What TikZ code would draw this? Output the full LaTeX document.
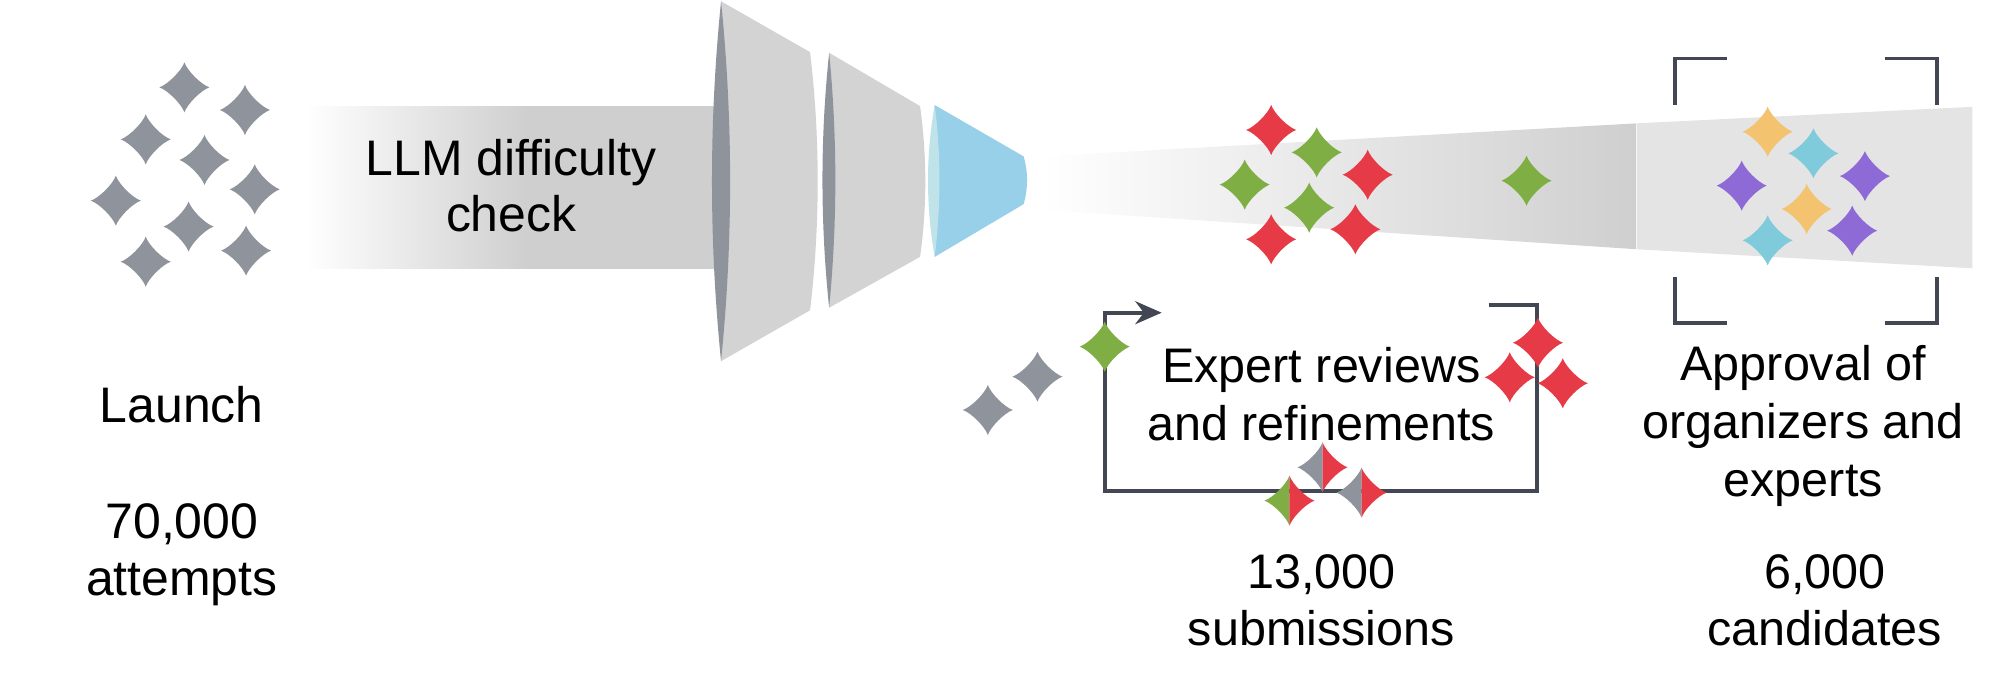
\documentclass[tikz,border=0pt]{standalone}
\usepackage{fontspec}
\setmainfont{Liberation Sans}
\usetikzlibrary{arrows.meta}

\definecolor{sparkgray}{HTML}{8F939B}
\definecolor{sparkred}{HTML}{E63B47}
\definecolor{sparkgreen}{HTML}{7FAE45}
\definecolor{sparkgold}{HTML}{F3C36F}
\definecolor{sparkcyan}{HTML}{7FCBDC}
\definecolor{sparkviolet}{HTML}{8E6AD6}
\definecolor{bandgray}{HTML}{CFCFCF}
\definecolor{bandlight}{HTML}{E4E4E4}
\definecolor{funnelgray}{HTML}{D3D3D3}
\definecolor{funnelblue}{HTML}{98CFE9}
\definecolor{lensblue}{HTML}{BFE3E8}
\definecolor{linegray}{HTML}{434754}

\pgfdeclarehorizontalshading{bandfade}{100bp}{color(0bp)=(white); color(25bp)=(white); color(52bp)=(bandgray); color(100bp)=(bandgray)}

\newcommand{\sparkright}{(0,.25cm) .. controls (.03cm,.165cm) and (.165cm,.03cm) .. (.25cm,0) .. controls (.165cm,-.03cm) and (.03cm,-.165cm) .. (0,-.25cm)}
\newcommand{\sparkleft}{(0,-.25cm) .. controls (-.03cm,-.165cm) and (-.165cm,-.03cm) .. (-.25cm,0) .. controls (-.165cm,.03cm) and (-.03cm,.165cm) .. (0,.25cm)}

\tikzset{
  spark/.style={inner sep=0pt, minimum size=.5cm, path picture={
    \fill[#1, shift={(path picture bounding box.center)}] \sparkright -- \sparkleft -- cycle;}},
  halfspark/.style 2 args={inner sep=0pt, minimum size=.5cm, path picture={
    \fill[#1, shift={(path picture bounding box.center)}] \sparkleft -- cycle;
    \fill[#2, shift={(path picture bounding box.center)}] \sparkright -- cycle;}},
  txt/.style={align=center, text=black, inner sep=0pt, font=\fontsize{13.8pt}{16.4pt}\selectfont},
  txtwide/.style={txt, font=\fontsize{14.2pt}{16.2pt}\selectfont},
  bracket/.style={linegray, line width=1.1pt},
  loopline/.style={linegray, line width=1.2pt, -{Stealth[length=7.5pt,width=6.5pt]}}
}

\begin{document}
\begin{tikzpicture}[x=0.012717cm, y=-0.012717cm]
\useasboundingbox (0,0) rectangle (1568,534.7);

\shade[shading=bandfade] (240,84) rectangle (562,211);
\shade[left color=white, right color=bandgray] (818,123) -- (1287,97) -- (1287,196) -- (818,165) -- cycle;
\fill[bandlight] (1287,97) -- (1551,84) -- (1551,211) -- (1287,196) -- cycle;

\fill[funnelgray] (567,1) -- (637,41) .. controls (645,108) and (645,177) .. (637,244) -- (567,284) -- cycle;
\fill[sparkgray] (567,1) .. controls (576.5,95) and (576.5,190) .. (567,284) .. controls (557.5,190) and (557.5,95) .. (567,1) -- cycle;
\fill[funnelgray] (652,41.5) -- (723.5,83.4) .. controls (729,123) and (729,163) .. (723.5,202) -- (652,242) -- cycle;
\fill[sparkgray] (652,41.5) .. controls (658.5,108) and (658.5,175) .. (652,242) .. controls (645,175) and (645,108) .. (652,41.5) -- cycle;
\fill[funnelblue] (735,82.6) -- (805,123) .. controls (808.5,135) and (808.5,148) .. (805,160.5) -- (735,202) -- cycle;
\fill[lensblue] (735,82.6) .. controls (740,122) and (740,162) .. (735,202) .. controls (728,162) and (728,122) .. (735,82.6) -- cycle;

\node[spark=sparkgray] (try1) at (145,68.7) {};
\node[spark=sparkgray] (try2) at (192.6,86.5) {};
\node[spark=sparkgray] (try3) at (114.6,109.6) {};
\node[spark=sparkgray] (try4) at (160.8,125.8) {};
\node[spark=sparkgray] (try5) at (200.3,148.9) {};
\node[spark=sparkgray] (try6) at (91.1,157.8) {};
\node[spark=sparkgray] (try7) at (148.3,178.2) {};
\node[spark=sparkgray] (try8) at (193.5,197.1) {};
\node[spark=sparkgray] (try9) at (114.6,205.8) {};

\node[spark=sparkred] (sub1) at (999.6,102.2) {};
\node[spark=sparkgreen] (sub2) at (1035.4,119.8) {};
\node[spark=sparkred] (sub3) at (1075.5,137.4) {};
\node[spark=sparkgreen] (sub4) at (978.8,145.2) {};
\node[spark=sparkgreen] (sub5) at (1029.5,163.3) {};
\node[spark=sparkred] (sub6) at (1065.8,180.3) {};
\node[spark=sparkred] (sub7) at (999.6,188.2) {};
\node[spark=sparkgreen] (sub8) at (1200.4,142.1) {};

\node[spark=sparkgold] (cand1) at (1390,103.6) {};
\node[spark=sparkcyan] (cand2) at (1426,120.6) {};
\node[spark=sparkviolet] (cand3) at (1466.5,138.5) {};
\node[spark=sparkviolet] (cand4) at (1369.6,146) {};
\node[spark=sparkgold] (cand5) at (1420.7,164.4) {};
\node[spark=sparkviolet] (cand6) at (1456.5,181.4) {};
\node[spark=sparkcyan] (cand7) at (1390,189) {};

\draw[bracket] (1358,46) -| (1317,82.6);
\draw[bracket] (1482,46) -| (1523,82.6);
\draw[bracket] (1358,254) -| (1317,218);
\draw[bracket] (1482,254) -| (1523,218);

\coordinate (loopstart) at (1170.6,239.8);
\coordinate (loopcorner) at (1208.7,386);
\coordinate (loopturn) at (868.7,386);
\coordinate (looptip) at (913.5,245.9);
\draw[loopline] (loopstart) -| (loopcorner) -- (loopturn) |- (looptip);

\node[spark=sparkgray] (wait1) at (815.8,296.2) {};
\node[spark=sparkgray] (wait2) at (776.8,322.4) {};
\node[spark=sparkgreen] (back) at (868.7,272.6) {};
\node[spark=sparkred] (out1) at (1209.4,269.5) {};
\node[spark=sparkred] (out2) at (1187.2,296.7) {};
\node[spark=sparkred] (out3) at (1228.9,301.4) {};
\node[halfspark={sparkgray}{sparkred}] (rev1) at (1040,367.5) {};
\node[halfspark={sparkgray}{sparkred}] (rev2) at (1070.7,387.4) {};
\node[halfspark={sparkgreen}{sparkred}] (rev3) at (1014,393.7) {};

\node[txtwide] (check) at (402,146) {LLM difficulty\\check};
\node[txtwide] (launch) at (143,318.5) {Launch};
\node[txtwide] (attempts) at (143,436.5) {70,000\\attempts};
\node[txt] (reviews) at (1039,310) {Expert reviews\\and refinements};
\node[txt] (submissions) at (1039,472) {13,000\\submissions};
\node[txt] (approval) at (1418,335) {Approval of\\organizers and\\experts};
\node[txt] (candidates) at (1435,472) {6,000\\candidates};
\end{tikzpicture}
\end{document}
